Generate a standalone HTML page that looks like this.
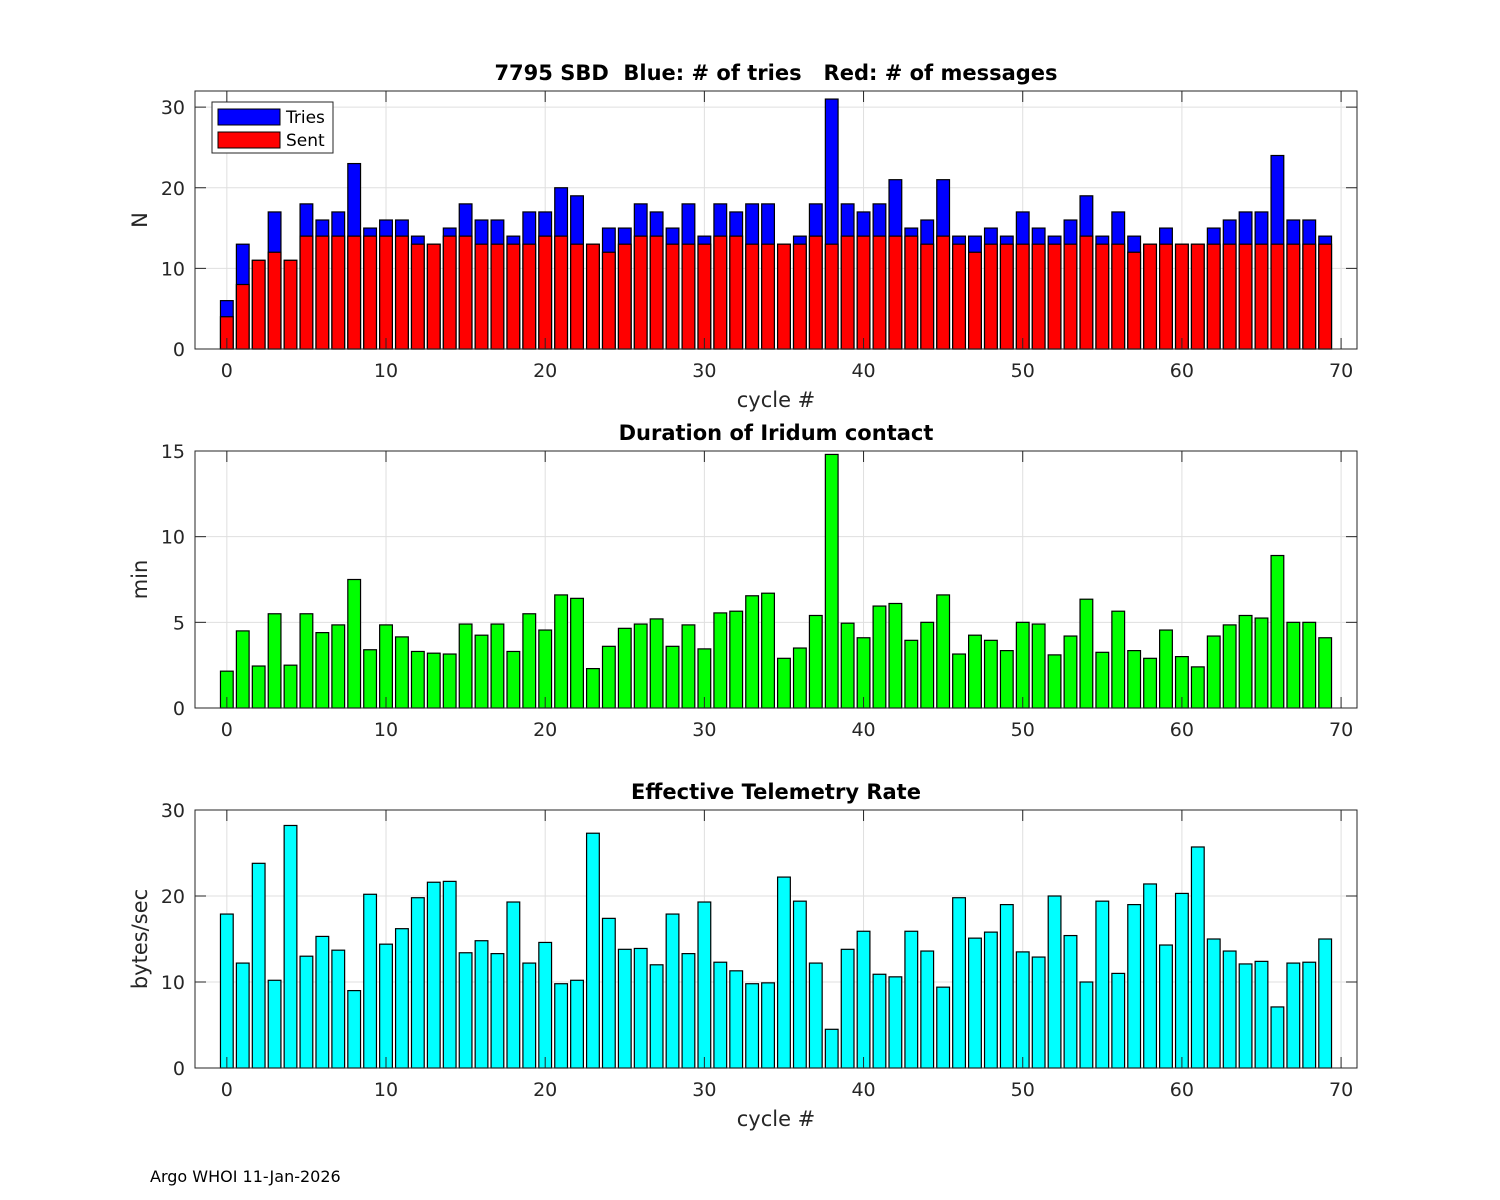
<!DOCTYPE html>
<html><head><meta charset="utf-8"><style>
body{margin:0;background:#fff;}
svg{display:block;font-family:"DejaVu Sans","Liberation Sans",sans-serif;}
svg text{white-space:pre;}
</style></head><body>
<svg id="fig" width="1500" height="1200"></svg>
<script>
const cycles=[];for(let i=0;i<70;i++)cycles.push(i);
const tries=[6,13,11,17,11,18,16,17,23,15,16,16,14,13,15,18,16,16,14,17,17,20,19,13,15,15,18,17,15,18,14,18,17,18,18,13,14,18,31,18,17,18,21,15,16,21,14,14,15,14,17,15,14,16,19,14,17,14,13,15,13,13,15,16,17,17,24,16,16,14];
const sent=[4,8,11,12,11,14,14,14,14,14,14,14,13,13,14,14,13,13,13,13,14,14,13,13,12,13,14,14,13,13,13,14,14,13,13,13,13,14,13,14,14,14,14,14,13,14,13,12,13,13,13,13,13,13,14,13,13,12,13,13,13,13,13,13,13,13,13,13,13,13];
const duration=[2.15,4.5,2.45,5.5,2.5,5.5,4.4,4.85,7.5,3.4,4.85,4.15,3.3,3.2,3.15,4.9,4.25,4.9,3.3,5.5,4.55,6.6,6.4,2.3,3.6,4.65,4.9,5.2,3.6,4.85,3.45,5.55,5.65,6.55,6.7,2.9,3.5,5.4,14.8,4.95,4.1,5.95,6.1,3.95,5.0,6.6,3.15,4.25,3.95,3.35,5.0,4.9,3.1,4.2,6.35,3.25,5.65,3.35,2.9,4.55,3.0,2.4,4.2,4.85,5.4,5.25,8.9,5.0,5.0,4.1];
const rate=[17.9,12.2,23.8,10.2,28.2,13.0,15.3,13.7,9.0,20.2,14.4,16.2,19.8,21.6,21.7,13.4,14.8,13.3,19.3,12.2,14.6,9.8,10.2,27.3,17.4,13.8,13.9,12.0,17.9,13.3,19.3,12.3,11.3,9.8,9.9,22.2,19.4,12.2,4.5,13.8,15.9,10.9,10.6,15.9,13.6,9.4,19.8,15.1,15.8,19.0,13.5,12.9,20.0,15.4,10.0,19.4,11.0,19.0,21.4,14.3,20.3,25.7,15.0,13.6,12.1,12.4,7.1,12.2,12.3,15.0];
const xTicks=[0,10,20,30,40,50,60,70];
const yTicks1=[0,10,20,30], yTicks2=[0,5,10,15], yTicks3=[0,10,20,30];

const NS="http://www.w3.org/2000/svg";
const svg=document.getElementById('fig');
function mk(tag,attrs,parent,text){const e=document.createElementNS(NS,tag);for(const k in attrs)e.setAttribute(k,attrs[k]);if(text!==undefined)e.textContent=text;(parent||svg).appendChild(e);return e;}
const L=195,R=1357,XMIN=-2,XMAX=71;
const sx=v=>L+(v-XMIN)/(XMAX-XMIN)*(R-L);
function panel(name,top,bot,ymax,yTicks,title,ylabel,xlabel){
  const g=mk('g',{});
  
  
  const sy=v=>bot-v/ymax*(bot-top);
  mk('rect',{x:L,y:top,width:R-L,height:bot-top,fill:'#fff'},g);
  xTicks.forEach(t=>{mk('line',{x1:sx(t),x2:sx(t),y1:top,y2:bot,stroke:'#dfdfdf','stroke-width':1},g);});
  yTicks.forEach(t=>{mk('line',{x1:L,x2:R,y1:sy(t),y2:sy(t),stroke:'#dfdfdf','stroke-width':1},g);});
  return {g,sy,finish:()=>{
    mk('rect',{x:L,y:top,width:R-L,height:bot-top,fill:'none',stroke:'#262626','stroke-width':1},g);
    xTicks.forEach(t=>{
      mk('line',{x1:sx(t),x2:sx(t),y1:bot,y2:bot-11,stroke:'#262626'},g);
      mk('line',{x1:sx(t),x2:sx(t),y1:top,y2:top+11,stroke:'#262626'},g);
      const tl=mk('text',{x:sx(t),y:bot+28,'text-anchor':'middle','font-size':19,fill:'#262626'},g,String(t));
      
      
    });
    yTicks.forEach(t=>{
      mk('line',{x1:L,x2:L+11,y1:sy(t),y2:sy(t),stroke:'#262626'},g);
      mk('line',{x1:R,x2:R-11,y1:sy(t),y2:sy(t),stroke:'#262626'},g);
      const tl=mk('text',{x:L-10,y:sy(t)+7,'text-anchor':'end','font-size':19,fill:'#262626'},g,String(t));
      
      
    });
    const tt=mk('text',{x:(L+R)/2,y:top-11,'text-anchor':'middle','font-size':21,'font-weight':'bold',fill:'#000'},g,title);
    
    
    const yl=mk('text',{x:0,y:0,'text-anchor':'middle','font-size':21,fill:'#262626',transform:`translate(147,${(top+bot)/2}) rotate(-90)`},g,ylabel);
    
    
    if(xlabel){
      const xl=mk('text',{x:(L+R)/2,y:bot+58,'text-anchor':'middle','font-size':21,fill:'#262626'},g,xlabel);
      
      
    }
  }};
}
const bw=0.8;
function bar(g,x,v,sy,color,name){
  const y0=sy(0),y1=sy(v);
  const r=mk('rect',{x:sx(x-bw/2),y:Math.min(y0,y1),width:sx(x+bw/2)-sx(x-bw/2),height:Math.abs(y0-y1),fill:color,stroke:'#000','stroke-width':1.2},g);
  
  
}
const p1=panel('tries-sent-panel',91,349,32,yTicks1,'7795 SBD  Blue: # of tries   Red: # of messages','N','cycle #');
cycles.forEach((c,i)=>bar(p1.g,c,tries[i],p1.sy,'#0000ff','tries-bar'));
cycles.forEach((c,i)=>bar(p1.g,c,sent[i],p1.sy,'#ff0000','sent-bar'));
p1.finish();
const lg=mk('g',{});


mk('rect',{x:212,y:102,width:121,height:51,fill:'#fff',stroke:'#262626'},lg);
mk('rect',{x:218,y:109,width:62,height:16,fill:'#0000ff',stroke:'#000'},lg);
mk('rect',{x:218,y:132,width:62,height:16,fill:'#ff0000',stroke:'#000'},lg);
const t1=mk('text',{x:286,y:123,'font-size':17,fill:'#000'},lg,'Tries');


const t2=mk('text',{x:286,y:146,'font-size':17,fill:'#000'},lg,'Sent');


const p2=panel('duration-panel',451,708,15,yTicks2,'Duration of Iridum contact','min',null);
bar(p2.g,-1,0,p2.sy,'#00ff00','duration-bar');
cycles.forEach((c,i)=>bar(p2.g,c,duration[i],p2.sy,'#00ff00','duration-bar'));
p2.finish();
const p3=panel('rate-panel',810,1068,30,yTicks3,'Effective Telemetry Rate','bytes/sec','cycle #');
cycles.forEach((c,i)=>bar(p3.g,c,rate[i],p3.sy,'#00ffff','rate-bar'));
p3.finish();
const ft=mk('text',{x:150,y:1182,'font-size':16,fill:'#000'},svg,'Argo WHOI 11-Jan-2026');


</script>
</body></html>
